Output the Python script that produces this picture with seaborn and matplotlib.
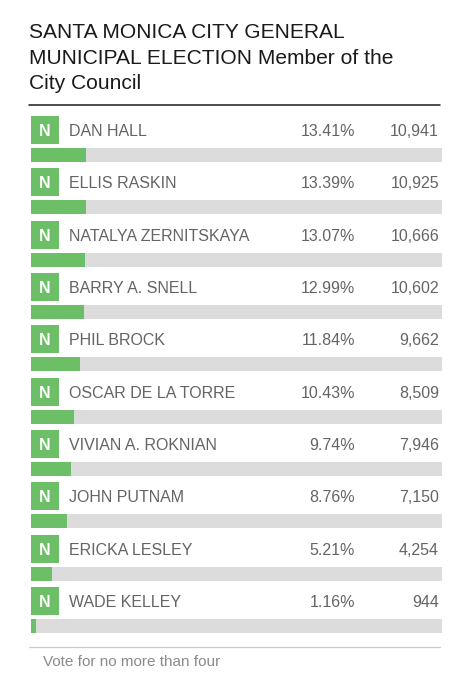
import matplotlib
matplotlib.use("Agg")

import numpy as np
import pandas as pd
import matplotlib.pyplot as plt
from matplotlib.lines import Line2D
import seaborn as sns

# =====================
# DATA
# =====================
title_lines = [
    "SANTA MONICA CITY GENERAL",
    "MUNICIPAL ELECTION Member of the",
    "City Council",
]
candidates = [
    "DAN HALL", "ELLIS RASKIN", "NATALYA ZERNITSKAYA", "BARRY A. SNELL",
    "PHIL BROCK", "OSCAR DE LA TORRE", "VIVIAN A. ROKNIAN", "JOHN PUTNAM",
    "ERICKA LESLEY", "WADE KELLEY",
]
party = ["N"] * len(candidates)
pct = [13.41, 13.39, 13.07, 12.99, 11.84, 10.43, 9.74, 8.76, 5.21, 1.16]
votes = [10941, 10925, 10666, 10602, 9662, 8509, 7946, 7150, 4254, 944]
footer = "Vote for no more than four"

df = pd.DataFrame({"candidate": candidates, "pct": pct, "votes": votes, "party": party})
df["full"] = 100.0

# =====================
# STYLE
# =====================
sns.set_theme(style="white")
plt.rcParams["font.family"] = ["Liberation Sans", "DejaVu Sans"]

GREEN = "#6dbf67"
TRACK = "#dcdcdc"
TEXT = "#646464"

W, H = 468, 680
fig = plt.figure(figsize=(W / 100, H / 100), dpi=100)

# row pitch in pixels; axes spans from top rule to bottom rule
pitch = 52.33
top_px, bot_px = 105, 647
first_bar_px = 155
left_px, right_px = 31, 442

ax = fig.add_axes([left_px / W, (H - bot_px) / H,
                   (right_px - left_px) / W, (bot_px - top_px) / H])

# =====================
# BARS
# =====================
bar_h = 14 / pitch
sns.barplot(data=df, x="full", y="candidate", orient="h", color=TRACK,
            width=bar_h, saturation=1, linewidth=0, edgecolor="none", ax=ax)
sns.barplot(data=df, x="pct", y="candidate", orient="h", color=GREEN,
            width=bar_h, saturation=1, linewidth=0, edgecolor="none", ax=ax)

ax.set_xlim(0, 100)
ax.set_ylim((bot_px - first_bar_px) / pitch, (top_px - first_bar_px) / pitch)
ax.axis("off")

# party badges
px_per_unit = (right_px - left_px) / 100
rows = np.arange(len(candidates))
badge_off = (130 - first_bar_px) / pitch
badge_w = 28 / px_per_unit
ax.barh(rows + badge_off, badge_w, height=28 / pitch, left=0, color=GREEN,
        linewidth=0)

# =====================
# LABELS
# =====================
base_off = (136 - first_bar_px) / pitch
name_x = (69 - left_px) / px_per_unit
pct_x = (355 - left_px) / px_per_unit
vote_x = (439 - left_px) / px_per_unit
for i, row in df.iterrows():
    y = i + base_off
    ax.text(badge_w / 2, y, row["party"], color="white", fontsize=11.5,
            fontweight="bold", ha="center", va="baseline")
    ax.text(name_x, y, row["candidate"], color=TEXT, fontsize=11.5,
            ha="left", va="baseline")
    ax.text(pct_x, y, f"{row['pct']:.2f}%", color=TEXT, fontsize=11.5,
            ha="right", va="baseline")
    ax.text(vote_x, y, f"{row['votes']:,}", color=TEXT, fontsize=11.5,
            ha="right", va="baseline")

# =====================
# TITLE / RULES / FOOTER
# =====================
for k, line in enumerate(title_lines):
    fig.text(29 / W, 1 - (38 + k * 25.5) / H, line, fontsize=15.1,
             color="#1a1a1a", ha="left", va="baseline")

fig.add_artist(Line2D([29 / W, 440 / W], [1 - 105 / H] * 2, color="#1a1a1a", lw=1.1))
fig.add_artist(Line2D([29 / W, 440 / W], [1 - 647 / H] * 2, color="#cccccc", lw=0.9))

fig.text(43 / W, 1 - 666 / H, footer, fontsize=11, color="#8a8a8a",
         ha="left", va="baseline")

fig.savefig("out.png", dpi=100, facecolor="white")
plt.close(fig)
